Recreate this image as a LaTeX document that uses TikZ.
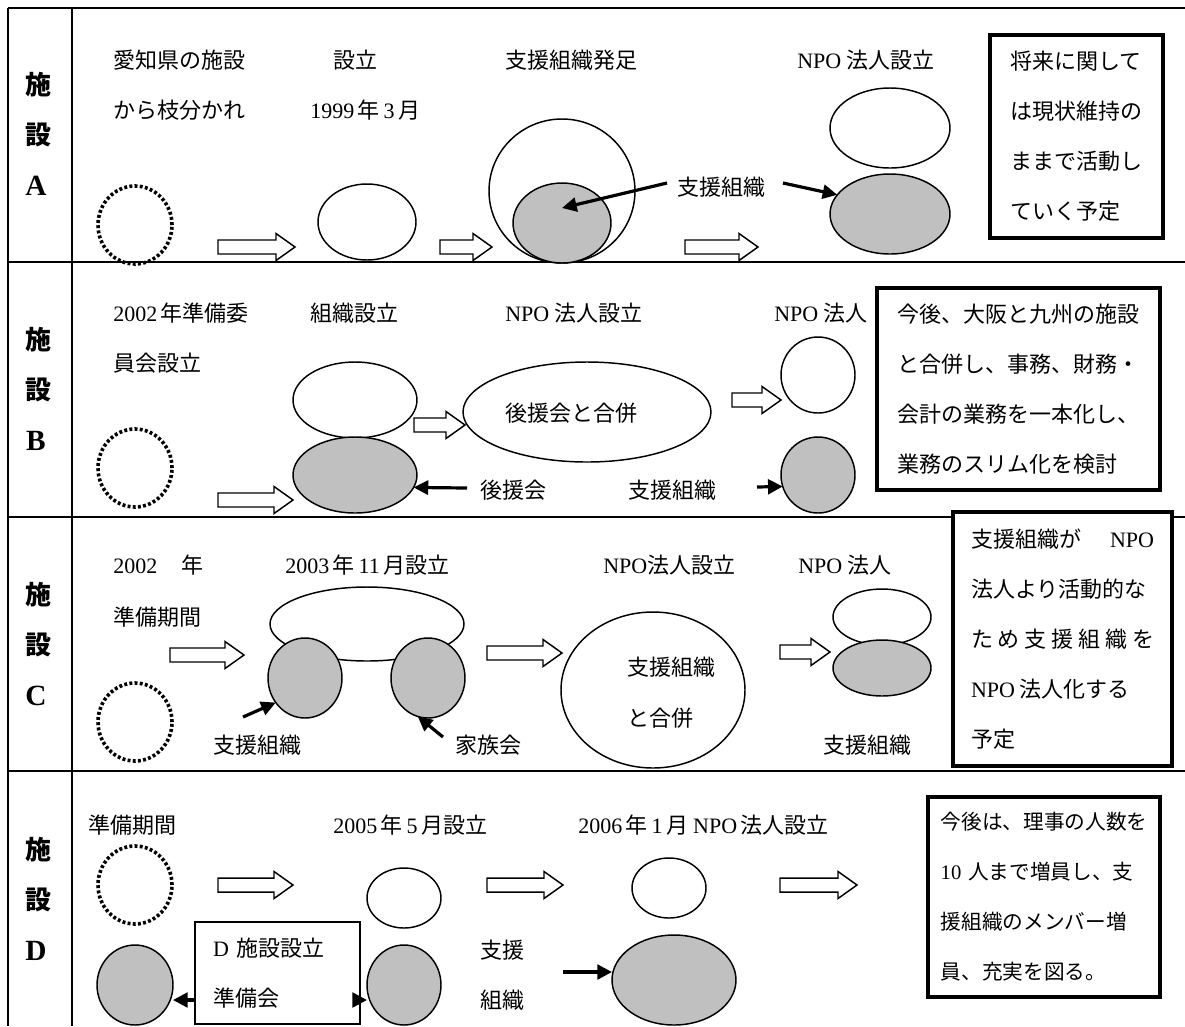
\documentclass[tikz,border=0pt]{standalone}
\usepackage{fontspec}
\setmainfont{Noto Sans CJK JP}
\newfontfamily\ltf{Liberation Serif}
\usetikzlibrary{shapes.geometric,arrows.meta}
\definecolor{gr}{RGB}{192,192,192}
\newcommand{\en}[1]{{\ltf #1}}
\newcommand{\fsz}{\fontsize{16.5}{20}\selectfont}
\newcommand{\bsz}{\fontsize{16.5}{37.5}\selectfont}
\newcommand{\blockarr}[3]{\draw[barrow] (#1,#3-7) -- (#2-19,#3-7) -- (#2-19,#3-13.5) -- (#2,#3) -- (#2-19,#3+13.5) -- (#2-19,#3+7) -- (#1,#3+7) -- cycle;}
\begin{document}
\begin{tikzpicture}[x=0.75pt,y=-0.75pt,
  txt/.style={font=\fsz, anchor=west, inner sep=0pt},
  lab/.style={font=\fontsize{19.5}{20}\selectfont\bfseries, inner sep=0pt},
  labl/.style={font=\fontsize{22}{22}\selectfont\bfseries\ltf, inner sep=0pt},
  ell/.style 2 args={ellipse, draw, line width=1.1pt, inner sep=0pt, outer sep=0pt, minimum width={#1*0.75pt}, minimum height={#2*0.75pt}},
  greyf/.style={fill=gr},
  dotc/.style={ellipse, draw, line width=2.7pt, dash pattern=on 2.2pt off 1.7pt, inner sep=0pt, minimum width={74*0.75pt}, minimum height={78*0.75pt}},
  notebox/.style={draw, line width=3pt, fill=white, inner sep=0pt, align=left, font=\bsz},
  frame/.style={line width=1.5pt},
  barrow/.style={line width=1.1pt, fill=white, line join=miter},
  tarr/.style={line width=2.4pt, -{Triangle[length=11pt,width=10.5pt]}},
  sarr/.style={line width=2.4pt, -{Triangle[length=11pt,width=11pt]}}]
\useasboundingbox[fill=white] (0,0) rectangle (1185,1026);
% frame
\draw[frame] (8,8) -- (1185,8);
\draw[frame] (8,262) -- (1185,262);
\draw[frame] (8,517) -- (1185,517);
\draw[frame] (8,771) -- (1185,771);
\draw[frame] (8,8) -- (8,1026);
\draw[frame] (72,8) -- (72,1026);
% left labels
\foreach \y/\L [count=\i] in {85/A,340/B,595/C,850/D}{
  \node[lab] (l\i a) at (38,\y) {施};
  \node[lab] (l\i b) at (38,\y+50) {設};
  \node[labl] (l\i c) at (36,\y+101) {\L};
}
% ===== Row A =====
\node[txt] (a1) at (113,60) {愛知県の施設};
\node[txt] (a2) at (113,110) {から枝分かれ};
\node[txt] (a3) at (333,60) {設立};
\node[txt] (a4) at (310,110) {\en{1999}\,年\,\en{3}\,月};
\node[txt] (a5) at (505,60) {支援組織発足};
\node[txt] (a6) at (797,60) {\en{NPO} 法人設立};
\node[txt] (a7) at (677,187) {支援組織};
\node[dotc] (a0) at (135,225) {};
\node[ell={98}{76}] (aw) at (367,222) {};
\node[ell={146}{144}] (abig) at (562,191) {};
\node[ell={98}{80}, greyf] (ag) at (562,223) {};
\node[ell={120}{80}] (anw) at (890,128) {};
\node[ell={120}{80}, greyf] (ang) at (890,214) {};
\blockarr{218}{295}{247}
\blockarr{440}{492}{247}
\blockarr{685}{758}{247}
\coordinate (a7s) at (667,183);
\coordinate (agp) at (562,208);
\draw[tarr] (a7s) -- (agp);
\coordinate (a8s) at (783,183);
\draw[tarr] (a8s) -- (ang.160);
\node[notebox, minimum width={173*0.75pt}, minimum height={203*0.75pt}] (boxA) at (1076.5,136.5)
 {将来に関して\\は現状維持の\\ままで活動し\\ていく予定};
% ===== Row B =====
\node[txt] (b1) at (113,313) {\en{2002}\,年準備委};
\node[txt] (b2) at (113,363) {員会設立};
\node[txt] (b3) at (310,313) {組織設立};
\node[txt] (b4) at (505,313) {\en{NPO} 法人設立};
\node[txt] (b5) at (774,313) {\en{NPO} 法人};
\node[dotc] (b0) at (135,468) {};
\node[ell={124}{76}] (bw) at (355,400) {};
\node[ell={124}{76}, greyf] (bg) at (355,475) {};
\node[ell={248}{100}] (bbig) at (587,412) {};
\node[txt] (b6) at (505,413) {後援会と合併};
\node[ell={74}{76}] (bcw) at (818,375) {};
\node[ell={74}{76}, greyf] (bcg) at (818,475) {};
\node[txt] (b7) at (480,490) {後援会};
\node[txt] (b8) at (628,490) {支援組織};
\blockarr{218}{293}{500}
\blockarr{414}{465}{425}
\blockarr{732}{781}{400}
\coordinate (b7s) at (467,488);
\draw[tarr] (b7s) -- (bg.-12);
\coordinate (b8s) at (757,487);
\draw[sarr] (b8s) -- (bcg.198);
\node[notebox, minimum width={283*0.75pt}, minimum height={202*0.75pt}] (boxB) at (1018.5,389)
 {今後、大阪と九州の施設\\と合併し、事務、財務・\\会計の業務を一本化し、\\業務のスリム化を検討};
% ===== Row C =====
\node[txt] (c1) at (113,565) {\en{2002}\hspace{18pt}年};
\node[txt] (c2) at (113,617) {準備期間};
\node[txt] (c3) at (285,565) {\en{2003}\,年\,\en{11}\,月設立};
\node[txt] (c4) at (603,565) {\en{NPO}法人設立};
\node[txt] (c5) at (798,565) {\en{NPO} 法人};
\node[dotc] (c0) at (135,722) {};
\node[ell={194}{74}] (cw) at (367,624) {};
\node[ell={74}{80}, greyf] (cgl) at (305,678) {};
\node[ell={74}{80}, greyf] (cgr) at (428,678) {};
\node[txt] (c6) at (213,745) {支援組織};
\node[txt] (c7) at (455,745) {家族会};
\node[ell={184}{156}] (cbig) at (653,690) {};
\node[txt] (c8) at (627,667) {支援組織};
\node[txt] (c9) at (627,718) {と合併};
\node[ell={98}{56}] (cnw) at (882,617) {};
\node[ell={98}{56}, greyf] (cng) at (882,668) {};
\node[txt] (c10) at (823,745) {支援組織};
\blockarr{170}{244}{655}
\blockarr{487}{562}{653}
\blockarr{780}{830}{652}
\coordinate (c6s) at (243,717);
\draw[tarr] (c6s) -- (cgl.-140);
\coordinate (c7s) at (443,737);
\draw[tarr] (c7s) -- (cgr.-105);
\node[notebox, minimum width={219*0.75pt}, minimum height={254*0.75pt}] (boxC) at (1062.5,639)
 {\makebox[137.25pt][s]{支援組織が\hfil\en{NPO}}\\法人より活動的な\\\makebox[137.25pt][s]{た\hfil め\hfil 支\hfil 援\hfil 組\hfil 織\hfil を}\\\en{NPO} 法人化する\\予定};
% ===== Row D =====
\node[txt] (d1) at (88,825) {準備期間};
\node[txt] (d2) at (333,825) {\en{2005}\,年\,\en{5}\,月設立};
\node[txt] (d3) at (578,825) {\en{2006}\,年\,\en{1}\,月 \en{NPO}\,法人設立};
\node[dotc] (d0) at (135,885) {};
\node[ell={74}{60}] (dw1) at (404,898) {};
\node[ell={74}{60}] (dw2) at (669,888) {};
\node[ell={76}{80}, greyf] (dgl) at (135,985) {};
\node[ell={74}{80}, greyf] (dgr) at (404,985) {};
\node[ell={124}{90}, greyf] (dgb) at (674,980) {};
\node[draw, line width=1pt, fill=white, inner sep=0pt, align=left, font=\bsz, text width={129*0.75pt}, minimum width={165*0.75pt}, minimum height={102*0.75pt}] (boxD0) at (277.5,973) {\en{D} 施設設立\\準備会};
\node[txt] (d4) at (480,950) {支援};
\node[txt] (d5) at (480,1000) {組織};
\blockarr{218}{293}{885}
\blockarr{487}{563}{885}
\blockarr{780}{857}{885}
\coordinate (d7a) at (195,1000);
\draw[sarr] (d7a) -- (d7a -| dgl.east);
\coordinate (d8a) at (360,1000);
\draw[sarr] (d8a) -- (d8a -| dgr.west);
\coordinate (d9a) at (563,972);
\draw[sarr] (d9a) -- (d9a -| dgb.west);
\node[notebox, font=\fontsize{15.5}{37.5}\selectfont, minimum width={232*0.75pt}, minimum height={200*0.75pt}] (boxD) at (1044,897)
 {今後は、理事の人数を\\\en{10}\hspace{5pt}人まで増員し、支\\援組織のメンバー増\\員、充実を図る。};
\end{tikzpicture}
\end{document}
